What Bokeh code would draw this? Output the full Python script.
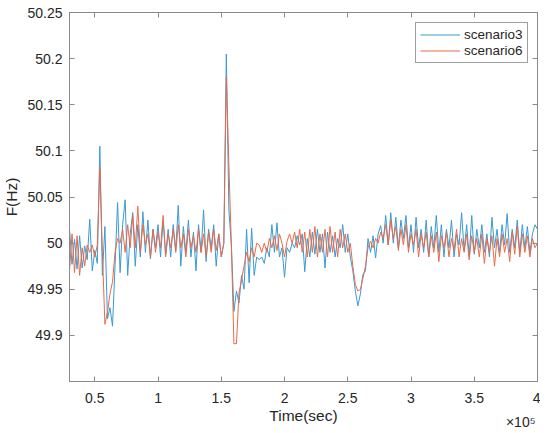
import numpy as np
from bokeh.plotting import figure
from bokeh.models import (Range1d, LinearAxis, FixedTicker, CustomJSTickFormatter,
                          Legend, LegendItem, Title)
from bokeh.embed import file_html
from bokeh.resources import INLINE

# time axis in units of 1e5 s, sampled every 0.02e5 s from 0.3e5 to 4e5
time_x1e5 = np.round(np.arange(0.30, 4.0001, 0.02), 2)

scenario3 = [
    50.015, 49.977, 50.004, 49.972, 50.008, 49.973, 49.997, 49.982, 50.026, 49.970,
    49.992, 49.978, 50.105, 49.965, 50.018, 49.918, 49.930, 49.910, 49.975, 50.044,
    49.968, 50.020, 50.047, 49.965, 50.010, 50.033, 49.975, 50.020, 49.985, 50.034,
    49.990, 50.025, 49.983, 50.015, 49.995, 50.020, 49.985, 50.025, 49.988, 50.015,
    49.985, 50.020, 49.992, 50.041, 49.975, 50.018, 49.990, 50.025, 49.985, 50.012,
    49.970, 50.020, 49.990, 50.036, 49.980, 50.015, 49.995, 50.020, 49.975, 50.010,
    49.985, 50.000, 50.205, 50.036, 49.997, 49.926, 49.948, 49.935, 49.965, 49.950,
    50.015, 49.957, 50.016, 49.965, 49.985, 49.982, 49.985, 49.978, 49.995, 49.985,
    50.020, 49.990, 50.022, 49.985, 49.995, 49.963, 49.995, 49.990, 50.000, 49.995,
    50.008, 49.998, 50.010, 49.969, 50.005, 49.985, 50.012, 49.988, 50.015, 49.990,
    50.010, 49.973, 50.012, 49.990, 50.008, 49.985, 50.005, 49.995, 50.020, 49.990,
    50.010, 49.985, 49.970, 49.948, 49.932, 49.945, 49.966, 49.970, 50.005, 49.990,
    50.008, 49.984, 50.010, 50.019, 50.000, 50.030, 49.998, 50.033, 50.000, 50.028,
    49.995, 50.025, 50.005, 50.030, 49.995, 50.020, 49.990, 50.028, 49.995, 50.015,
    49.990, 50.025, 49.985, 50.018, 49.995, 50.030, 49.990, 50.020, 49.985, 50.015,
    49.995, 50.025, 49.985, 50.010, 49.998, 50.033, 49.992, 50.020, 49.985, 50.030,
    49.988, 50.015, 49.995, 50.020, 49.990, 50.010, 49.985, 50.028, 49.995, 50.015,
    49.990, 50.020, 49.998, 50.032, 49.990, 50.015, 49.995, 50.025, 49.990, 50.020,
    49.995, 50.018, 49.990, 50.010, 50.020, 50.015,
]

scenario6 = [
    49.970, 50.010, 49.968, 50.008, 49.965, 49.995, 49.975, 49.998, 49.990, 49.998,
    49.985, 49.998, 50.082, 49.990, 49.912, 49.925, 49.945, 49.958, 49.990, 50.005,
    50.000, 50.015, 49.990, 50.020, 49.995, 50.030, 49.995, 50.040, 49.990, 50.020,
    49.998, 50.010, 49.985, 50.015, 49.990, 50.012, 49.995, 50.030, 49.985, 50.010,
    49.995, 50.015, 49.990, 50.020, 49.995, 50.010, 49.985, 50.015, 49.995, 50.008,
    49.990, 50.015, 49.990, 50.010, 49.985, 50.012, 49.990, 50.015, 49.992, 50.010,
    49.985, 50.000, 50.180, 50.085, 49.997, 49.891, 49.891, 49.946, 49.960, 49.975,
    49.990, 49.980, 49.995, 49.985, 50.000, 49.998, 49.990, 50.000, 49.990, 50.005,
    49.995, 50.008, 49.992, 50.010, 50.000, 49.985, 50.002, 50.010, 50.000, 50.012,
    49.995, 50.015, 49.990, 50.012, 49.985, 50.015, 49.990, 50.018, 49.985, 50.010,
    49.990, 50.015, 49.985, 50.018, 49.990, 50.012, 49.985, 50.015, 49.995, 50.010,
    49.990, 50.000, 49.975, 49.955, 49.948, 49.950, 49.962, 49.975, 49.995, 50.002,
    49.995, 50.005, 50.000, 50.012, 50.005, 50.020, 49.998, 50.025, 50.005, 50.018,
    49.992, 50.015, 49.998, 50.020, 49.990, 50.010, 49.998, 50.015, 49.985, 50.010,
    49.995, 50.012, 49.985, 50.008, 49.990, 50.012, 49.980, 50.008, 49.995, 50.012,
    49.985, 50.005, 49.992, 50.015, 49.985, 50.005, 49.990, 50.010, 49.982, 50.008,
    49.990, 50.005, 49.985, 50.010, 49.978, 50.005, 49.990, 50.008, 49.975, 50.005,
    49.985, 50.010, 49.990, 50.005, 49.980, 50.012, 49.988, 50.018, 49.985, 50.010,
    49.990, 50.008, 49.985, 50.005, 49.995, 50.000,
]

x_ticks = [0.5, 1, 1.5, 2, 2.5, 3, 3.5, 4]
y_ticks = [49.9, 49.95, 50, 50.05, 50.1, 50.15, 50.2, 50.25]
series_names = ["scenario3", "scenario6"]
series_colors = ["#3A9AD0", "#E86A4A"]

FONT = "Liberation Sans"
AXIS_COLOR = "#8a8a8a"
TEXT_COLOR = "#262626"

p = figure(frame_width=468, frame_height=369, output_backend="svg", toolbar_location=None,
           x_range=Range1d(0.3, 4.0), y_range=Range1d(49.85, 50.25),
           x_axis_type=None, y_axis_type=None,
           min_border_left=63, min_border_right=3, min_border_top=12, min_border_bottom=48)
p.grid.visible = False
p.outline_line_color = AXIS_COLOR
p.outline_line_width = 1
p.background_fill_color = "white"
p.border_fill_color = "white"

fmt = CustomJSTickFormatter(code="return tick.toString();")
blank = CustomJSTickFormatter(code="return '';")


def style(ax, label_size="14px"):
    ax.axis_line_color = AXIS_COLOR
    ax.major_tick_line_color = AXIS_COLOR
    ax.major_tick_in = 5
    ax.major_tick_out = 0
    ax.minor_tick_line_color = None
    ax.major_label_text_font = FONT
    ax.major_label_text_font_size = label_size
    ax.major_label_text_color = TEXT_COLOR
    ax.axis_label_text_font = FONT
    ax.axis_label_text_font_size = "15.5px"
    ax.axis_label_text_font_style = "normal"
    ax.axis_label_text_color = TEXT_COLOR


xb = LinearAxis(ticker=FixedTicker(ticks=x_ticks), formatter=fmt, axis_label="Time(sec)")
style(xb)
xb.major_label_standoff = 11
xb.axis_label_standoff = 1
p.add_layout(xb, "below")

yl = LinearAxis(ticker=FixedTicker(ticks=y_ticks), formatter=fmt, axis_label="F(Hz)")
style(yl)
yl.major_label_standoff = 7
yl.axis_label_standoff = 4
p.add_layout(yl, "left")

xt = LinearAxis(ticker=FixedTicker(ticks=x_ticks), formatter=blank)
style(xt, "0px")
xt.major_label_standoff = 0
p.add_layout(xt, "above")

yr = LinearAxis(ticker=FixedTicker(ticks=y_ticks), formatter=blank)
style(yr, "0px")
yr.major_label_standoff = 0
p.add_layout(yr, "right")

renderers = []
for vals, c in zip([scenario3, scenario6], series_colors):
    r = p.line(time_x1e5, vals, line_color=c, line_width=1.0)
    renderers.append(r)

legend = Legend(items=[LegendItem(label=n, renderers=[r]) for n, r in zip(series_names, renderers)],
                location=(346, 318))
legend.margin = 0
legend.padding = 4
legend.spacing = 1
legend.glyph_width = 40
legend.glyph_height = 15
legend.label_height = 15
legend.label_standoff = 4
legend.label_text_font = FONT
legend.label_text_font_size = "13.5px"
legend.label_text_color = TEXT_COLOR
legend.border_line_color = "#404040"
legend.border_line_width = 1
legend.background_fill_alpha = 1
p.add_layout(legend, "center")

# axis exponent note, placed under the x axis at the right end
exponent = Title(text="×10⁵", align="right", vertical_align="top", offset=2, standoff=-26,
                 text_font=FONT, text_font_size="14px", text_font_style="normal",
                 text_color=TEXT_COLOR)
p.add_layout(exponent, "below")

open("out.html", "w").write(file_html(p, INLINE))
